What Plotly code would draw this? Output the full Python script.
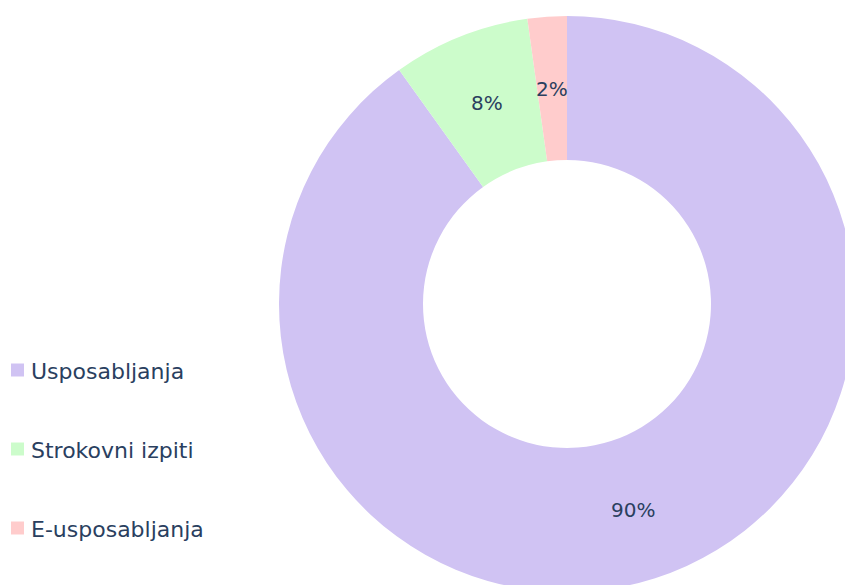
import math
import plotly.graph_objects as go

categories = ["Usposabljanja", "Strokovni izpiti", "E-usposabljanja"]
values = [90.1, 7.7, 2.2]
colors = ["#D0C3F3", "#CCFCCB", "#FFCCCC"]

FONT = "DejaVu Sans"
TEXT_COLOR = "#2a3f5f"
HOLE = 0.5

# page geometry: the donut overflows the 845x585 window (cropped like the reference)
W, H = 855, 592
ML, MT = 279, 16
PW = W - ML
PH = H - MT


def px_x(p):
    return (p - ML) / PW


def px_y(p):
    return (MT + PH - p) / PH


fig = go.Figure(
    go.Pie(
        labels=categories,
        values=values,
        hole=HOLE,
        sort=False,
        direction="clockwise",
        rotation=0,
        marker=dict(colors=colors, line=dict(width=0)),
        textinfo="none",
        showlegend=False,
        domain=dict(x=[0, 1], y=[0, 1]),
    )
)

# percentage labels placed at each slice's centroid (mid-angle, mid-ring)
total = sum(values)
annotations = []
cum = 0.0
r_mid = 0.5 * (1 + HOLE) / 2  # in paper units of the square pie domain
for v in values:
    frac = v / total
    theta = 2 * math.pi * (cum + frac / 2)
    cum += frac
    annotations.append(
        dict(
            text=f"{round(frac * 100)}%",
            xref="paper",
            yref="paper",
            x=0.5 + r_mid * math.sin(theta),
            y=0.5 + r_mid * math.cos(theta),
            xanchor="center",
            yanchor="middle",
            showarrow=False,
            borderpad=0,
            font=dict(family=FONT, size=20, color=TEXT_COLOR),
        )
    )

# legend (swatch + label) on the left
legend_y = [370, 449, 528]
shapes = []
for cat, col, yc in zip(categories, colors, legend_y):
    shapes.append(
        dict(
            type="rect",
            xref="paper",
            yref="paper",
            x0=px_x(11),
            x1=px_x(24),
            y0=px_y(yc + 6.5),
            y1=px_y(yc - 6.5),
            fillcolor=col,
            line=dict(width=0),
        )
    )
    annotations.append(
        dict(
            text=cat,
            xref="paper",
            yref="paper",
            x=px_x(30),
            y=px_y(yc + 1.5),
            xanchor="left",
            yanchor="middle",
            showarrow=False,
            borderpad=0,
            font=dict(family=FONT, size=22, color=TEXT_COLOR),
        )
    )

fig.update_layout(
    width=W,
    height=H,
    margin=dict(l=ML, r=0, t=MT, b=0, pad=0),
    paper_bgcolor="white",
    plot_bgcolor="white",
    font=dict(family=FONT, color=TEXT_COLOR),
    shapes=shapes,
    annotations=annotations,
    showlegend=False,
)

fig.write_html(
    "out.html",
    config={"displayModeBar": False},
    post_script=(
        "document.documentElement.style.overflow='hidden';"
        "document.body.style.overflow='hidden';"
        "document.body.style.margin='0';"
    ),
)
